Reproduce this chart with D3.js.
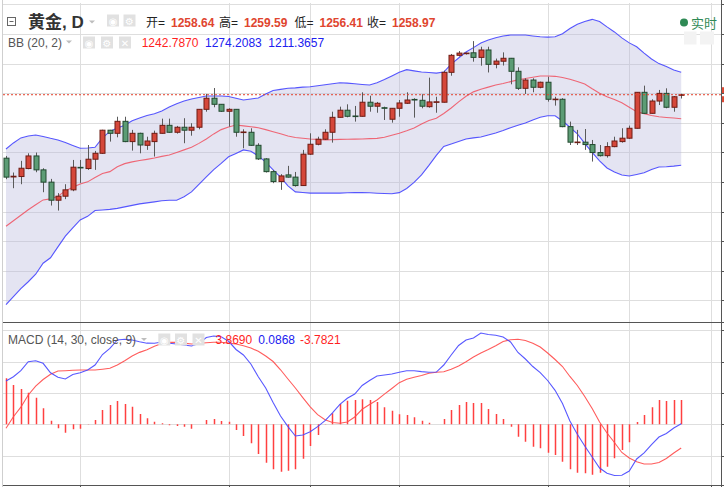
<!DOCTYPE html>
<html>
<head>
<meta charset="utf-8">
<script src="https://cdn.jsdelivr.net/npm/d3@7"></script>
<style>
body{margin:0;background:#fff;}
svg{display:block;font-family:"Liberation Sans",Arial,"Noto Sans CJK SC",sans-serif;}
</style>
</head>
<body>
<svg id="chart" width="724" height="487"></svg>
<script>
// daily gold candles
const opens = [1216.1,1203.4,1203.7,1209.1,1217.6,1208.2,1199.9,1187.7,1190.4,1194.7,
1209.9,1209.1,1215.4,1219.4,1235.0,1232.9,1241.0,1227.3,1232.9,1224.8,
1227.3,1232.9,1238.3,1233.6,1237.0,1235.0,1237.0,1249.1,1256.6,1252.5,
1247.8,1249.1,1233.4,1233.6,1224.8,1215.6,1207.0,1200.3,1204.8,1203.3,
1197.6,1218.8,1225.5,1228.9,1233.6,1243.7,1248.5,1244.6,1244.4,1253.9,
1251.2,1250.2,1242.4,1249.8,1253.2,1255.8,1255.2,1250.9,1253.9,1253.9,
1274.1,1285.6,1286.8,1287.3,1284.2,1289.2,1279.5,1281.6,1283.6,1274.8,
1263.3,1268.9,1264.0,1267.4,1255.7,1255.9,1237.4,1226.7,1226.9,1225.3,
1219.9,1217.8,1223.9,1227.3,1229.6,1236.3,1260.6,1246.4,1254.7,1259.9,
1250.5,1258.64];
const highs = [1217.6,1206.4,1214.3,1219.4,1219.9,1209.3,1202.1,1192.5,1198.5,1214.9,
1214.9,1225.0,1221.0,1235.3,1235.2,1244.1,1244.1,1235.2,1233.3,1230.6,
1234.7,1242.8,1242.8,1237.9,1243.1,1239.7,1249.3,1259.5,1263.5,1252.7,
1249.8,1249.3,1235.6,1236.3,1226.2,1216.1,1208.2,1205.3,1210.9,1206.8,
1221.7,1232.9,1230.6,1235.6,1247.5,1250.9,1252.5,1251.4,1260.6,1258.3,
1254.1,1250.9,1250.0,1255.4,1260.6,1256.6,1259.3,1270.5,1257.6,1275.2,
1286.5,1288.5,1287.5,1295.2,1291.4,1291.4,1283.4,1287.6,1283.8,1277.5,
1270.1,1270.1,1267.8,1271.1,1257.6,1256.6,1240.8,1235.2,1235.8,1228.4,
1225.0,1226.9,1230.6,1236.3,1238.1,1260.8,1265.1,1255.9,1262.2,1263.3,
1258.1,1259.59];
const lows = [1201.9,1195.8,1198.5,1208.6,1206.6,1193.1,1184.1,1180.7,1188.4,1193.8,
1199.4,1208.2,1208.2,1219.0,1227.3,1230.2,1226.9,1221.2,1219.4,1221.7,
1217.2,1232.7,1233.3,1232.7,1226.2,1231.3,1235.6,1247.5,1250.5,1247.3,
1237.4,1230.6,1222.8,1224.4,1214.9,1206.4,1199.2,1194.7,1203.0,1196.9,
1197.3,1218.3,1224.8,1228.4,1226.6,1243.5,1243.7,1240.8,1244.2,1247.5,
1246.8,1241.9,1240.1,1244.1,1252.7,1243.5,1249.8,1250.2,1246.8,1253.7,
1271.8,1284.8,1286.1,1281.3,1278.6,1274.0,1276.8,1278.7,1266.0,1262.2,
1259.5,1260.6,1263.3,1254.3,1251.6,1237.0,1225.0,1225.0,1221.7,1213.8,
1217.2,1216.5,1223.5,1226.6,1229.1,1236.1,1246.0,1246.2,1252.0,1249.8,
1247.5,1256.41];
const closes = [1203.3,1203.9,1209.3,1217.6,1208.2,1199.9,1187.7,1190.4,1194.7,1210.0,
1209.5,1215.4,1219.4,1235.0,1232.9,1241.0,1227.3,1232.9,1225.0,1227.7,
1232.9,1238.3,1233.6,1237.0,1235.0,1237.0,1249.1,1256.6,1252.5,1247.8,
1249.1,1233.6,1233.8,1224.8,1215.6,1207.0,1200.3,1204.1,1203.3,1197.6,
1218.8,1225.5,1228.9,1233.6,1243.7,1248.5,1244.4,1244.3,1253.9,1251.2,
1253.2,1249.9,1249.8,1253.4,1255.4,1255.5,1251.2,1254.1,1254.2,1274.1,
1285.6,1287.1,1287.1,1284.2,1289.2,1279.5,1281.7,1283.6,1274.8,1263.3,
1268.9,1264.0,1267.4,1255.9,1256.0,1237.4,1226.9,1227.0,1225.3,1219.9,
1217.8,1223.9,1227.7,1229.6,1236.3,1260.6,1246.4,1254.7,1259.9,1250.5,
1257.6,1258.97];

// Bollinger bands (20, 2)
const bbUpper = [1222.3,1226.4,1229.8,1231.1,1231.8,1230.8,1229.5,1228.4,1226.7,1224.7,
1222.8,1223.0,1223.5,1229.8,1234.2,1236.5,1238.4,1241.4,1243.3,1244.9,
1246.1,1248.0,1250.7,1252.9,1254.7,1256.1,1257.1,1258.1,1258.1,1258.1,
1257.8,1256.6,1255.4,1256.1,1256.8,1259.5,1261.8,1262.6,1263.3,1263.6,
1264.1,1264.4,1265.0,1265.7,1266.4,1267.1,1266.8,1266.4,1265.9,1265.5,
1267.1,1269.2,1271.7,1274.2,1275.9,1275.1,1274.3,1274.0,1273.6,1274.3,
1279.7,1283.8,1287.8,1290.8,1293.9,1295.9,1297.5,1298.6,1299.3,1299.3,
1299.3,1298.7,1298.1,1297.9,1298.1,1300.2,1303.7,1306.6,1308.5,1309.9,
1308.4,1304.8,1301.4,1297.4,1294.0,1291.4,1287.1,1283.1,1280.0,1278.0,
1275.7,1274.2083];
const bbMid = [1170.1,1173.8,1177.5,1181.2,1184.6,1187.9,1188.6,1190.4,1194.0,1196.4,
1198.6,1200.1,1203.1,1205.7,1207.0,1210.3,1212.4,1213.6,1214.5,1215.3,
1216.2,1217.3,1218.3,1220.0,1221.7,1223.5,1226.1,1229.1,1232.5,1235.4,
1237.2,1238.5,1237.9,1237.3,1236.7,1235.4,1234.0,1232.6,1231.1,1230.1,
1229.6,1229.1,1228.8,1228.4,1228.6,1228.8,1228.9,1229.0,1229.1,1229.3,
1229.5,1230.2,1231.6,1233.0,1234.6,1236.5,1239.2,1241.6,1243.1,1246.3,
1250.0,1254.1,1257.9,1260.9,1262.7,1264.1,1265.5,1266.5,1267.8,1269.0,
1269.9,1270.8,1271.6,1271.6,1271.4,1270.6,1269.4,1267.9,1266.2,1263.0,
1260.0,1257.6,1255.7,1253.5,1250.5,1247.5,1246.2,1244.9,1244.1,1243.6,
1243.2,1242.787];
const bbLower = [1117.1,1122.5,1127.9,1132.6,1137.7,1145.1,1148.8,1156.2,1163.4,1169.0,
1174.4,1176.8,1180.7,1181.1,1181.5,1182.2,1183.2,1184.2,1185.2,1185.9,
1186.6,1187.3,1187.7,1187.7,1190.0,1193.3,1198.4,1203.5,1208.4,1212.6,
1217.0,1219.3,1221.7,1220.8,1217.6,1213.4,1208.2,1203.3,1197.4,1193.3,
1192.9,1192.5,1192.5,1192.5,1192.5,1192.5,1192.7,1192.8,1192.9,1192.7,
1192.4,1192.2,1192.1,1192.8,1195.6,1199.7,1204.8,1211.2,1218.0,1224.0,
1225.7,1227.4,1229.0,1229.8,1230.4,1231.8,1233.1,1234.8,1236.7,1238.3,
1239.9,1241.9,1243.7,1244.8,1244.8,1241.2,1237.0,1232.5,1226.1,1220.0,
1214.3,1209.5,1206.8,1204.7,1204.1,1205.1,1206.2,1208.5,1210.1,1210.3,
1210.7,1211.3657];

// MACD (14, 30, close, 9)
const macdLine = [6.92,7.60,8.56,10.00,10.16,9.74,8.24,7.51,7.24,7.96,
8.24,8.67,9.47,11.15,12.14,13.47,13.58,13.47,13.19,12.96,
12.94,13.15,12.94,12.83,12.67,12.51,12.91,13.87,14.11,13.99,
13.26,11.95,11.07,9.63,7.60,5.80,3.48,1.33,-0.38,-1.87,
-1.71,-1.18,-0.38,0.58,1.81,3.19,4.15,4.84,6.20,7.00,
7.72,7.88,8.04,8.31,8.55,8.56,8.42,8.31,8.35,9.47,
11.07,12.59,13.47,13.79,14.58,14.34,14.22,13.95,13.15,11.47,
10.43,9.23,8.27,7.00,5.43,3.32,0.53,-1.60,-3.47,-5.22,
-6.98,-7.83,-8.19,-8.15,-7.46,-5.54,-4.58,-3.23,-2.03,-1.47,
-0.59,0.0868];
const signalLine = [-0.64,1.21,2.73,4.68,6.09,7.16,8.00,8.51,8.56,8.63,
8.67,8.67,8.67,8.80,8.95,9.47,10.14,10.91,11.49,11.90,
12.46,12.91,13.08,13.10,12.96,12.83,12.92,13.02,13.10,13.10,
12.96,12.83,12.54,12.19,11.66,10.91,10.03,8.71,7.24,5.80,
4.27,2.80,1.55,0.73,0.29,0.16,0.37,1.17,2.40,3.16,
3.88,4.81,5.72,6.65,7.19,7.51,7.80,8.15,8.31,8.40,
8.79,9.31,10.00,10.75,11.39,11.95,12.56,13.23,13.50,13.58,
13.39,12.96,12.35,11.39,10.35,9.23,7.64,6.20,4.44,2.52,
0.37,-1.39,-2.91,-4.50,-5.38,-5.99,-6.34,-6.34,-6.10,-5.46,
-4.58,-3.7821];
const macdHist = [7.35,6.28,5.64,5.05,4.25,2.56,0.58,-0.64,-1.34,-0.80,
-0.70,0.05,0.69,2.28,3.08,3.72,3.24,2.81,1.65,0.96,
0.42,0.16,-0.16,-0.27,-0.38,-0.70,0.02,0.69,0.85,0.53,
0.42,-0.91,-1.87,-3.04,-4.74,-6.13,-7.19,-7.57,-7.41,-7.19,
-5.50,-3.47,-1.71,0.05,1.76,3.24,3.77,3.88,3.99,3.88,
3.56,2.72,2.17,1.60,1.49,1.12,0.58,0.26,0.02,0.85,
2.28,3.08,3.56,3.40,3.40,2.44,1.65,0.85,-0.38,-1.98,
-2.78,-3.58,-3.83,-4.54,-4.90,-5.97,-7.19,-7.73,-7.83,-8.05,
-7.73,-6.77,-5.43,-4.11,-2.88,0.37,1.49,2.72,3.88,3.72,
3.88,3.8690];

// axis ticks / grid
const gridIdx = [10, 30, 41, 53, 73, 84, 95];
const priceTicks = [1120,1140,1160,1180,1200,1220,1240,1260,1280,1300,1320];
const macdTicks = [-5, 0, 5, 10, 15];
const ohlcLabels = ["开=", "高=", "低=", "收="];
const ohlcValues = ["1258.64", "1259.59", "1256.41", "1258.97"];
const bbValues = ["1242.7870", "1274.2083", "1211.3657"];
const macdValues = ["3.8690", "0.0868", "-3.7821"];

// general dimensions
const frame = {left: 3, right: 721, top: 3, split: 322.7, bottom: 485};
const upColor = "#d5473a", upEdge = "#6e1c14",
      downColor = "#5c9c75", downEdge = "#22492f",
      gridColor = "#dedede", blue = "#3b3bff", red = "#f23c4c";

const svg = d3.select("#chart");

const x = d3.scaleLinear().domain([0, 91]).range([6, 681.2]);
const y = d3.scaleLinear().domain([1240, 1260]).range([122.8, 93.2]);
const ym = d3.scaleLinear().domain([0, 5]).range([424.3, 393]);

svg.append("defs").call(d => {
  d.append("clipPath").attr("id", "clipMain").append("rect")
    .attr("x", frame.left).attr("y", frame.top)
    .attr("width", frame.right - frame.left).attr("height", frame.split - frame.top);
  d.append("clipPath").attr("id", "clipMacd").append("rect")
    .attr("x", frame.left).attr("y", frame.split)
    .attr("width", frame.right - frame.left).attr("height", frame.bottom - frame.split);
});

// grid
const grid = svg.append("g").attr("shape-rendering", "crispEdges");
grid.selectAll(".hp").data(priceTicks).join("line")
  .attr("x1", frame.left).attr("x2", frame.right)
  .attr("y1", d => Math.round(y(d)) + 0.5).attr("y2", d => Math.round(y(d)) + 0.5)
  .attr("stroke", gridColor);
grid.selectAll(".hm").data(macdTicks).join("line")
  .attr("x1", frame.left).attr("x2", frame.right)
  .attr("y1", d => Math.round(ym(d)) + 0.5).attr("y2", d => Math.round(ym(d)) + 0.5)
  .attr("stroke", gridColor);
grid.selectAll(".v").data(gridIdx).join("line")
  .attr("x1", d => Math.round(x(d)) + 0.5).attr("x2", d => Math.round(x(d)) + 0.5)
  .attr("y1", frame.top).attr("y2", frame.bottom + 2)
  .attr("stroke", gridColor);

// main panel
const main = svg.append("g").attr("clip-path", "url(#clipMain)");
const idx = d3.range(closes.length);

main.append("path")
  .datum(idx)
  .attr("d", d3.area().x(i => x(i)).y0(i => y(bbLower[i])).y1(i => y(bbUpper[i])))
  .attr("fill", "#b8b8dc").attr("fill-opacity", 0.38);

const bandLine = arr => d3.line().x(i => x(i)).y(i => y(arr[i]));
main.append("path").datum(idx).attr("d", bandLine(bbUpper))
  .attr("fill", "none").attr("stroke", blue).attr("stroke-width", 1.1).attr("stroke-opacity", 0.85);
main.append("path").datum(idx).attr("d", bandLine(bbLower))
  .attr("fill", "none").attr("stroke", blue).attr("stroke-width", 1.1).attr("stroke-opacity", 0.85);
main.append("path").datum(idx).attr("d", bandLine(bbMid))
  .attr("fill", "none").attr("stroke", red).attr("stroke-width", 1.1).attr("stroke-opacity", 0.75);

const candles = idx.map(i => ({i: i, o: opens[i], h: highs[i], l: lows[i], c: closes[i]}));
main.selectAll(".wick").data(candles).join("line")
  .attr("x1", d => Math.round(x(d.i)) + 0.5).attr("x2", d => Math.round(x(d.i)) + 0.5)
  .attr("y1", d => y(d.h)).attr("y2", d => y(d.l))
  .attr("stroke", "#5a5a5a").attr("stroke-width", 1);
main.selectAll(".body").data(candles).join("rect")
  .attr("x", d => Math.round(x(d.i)) - 2)
  .attr("width", 5)
  .attr("y", d => y(Math.max(d.o, d.c)))
  .attr("height", d => Math.max(0.6, Math.abs(y(d.o) - y(d.c))))
  .attr("fill", d => d.c >= d.o ? upColor : downColor)
  .attr("stroke", d => d.c >= d.o ? upEdge : downEdge)
  .attr("stroke-width", 1);

// last price line
const lastClose = closes[closes.length - 1];
svg.append("line")
  .attr("x1", frame.left).attr("x2", frame.right)
  .attr("y1", y(lastClose)).attr("y2", y(lastClose))
  .attr("stroke", "#e3402c").attr("stroke-width", 1).attr("stroke-dasharray", "2,2");
svg.append("rect").attr("x", 721.5).attr("y", y(lastClose) - 7.5).attr("width", 3).attr("height", 6).attr("fill", "#dd4a35");
svg.append("rect").attr("x", 721.5).attr("y", y(lastClose) + 1.5).attr("width", 3).attr("height", 6).attr("fill", "#dd4a35");

// MACD panel
const macd = svg.append("g").attr("clip-path", "url(#clipMacd)");
macd.selectAll(".bar").data(idx).join("line")
  .attr("x1", i => Math.round(x(i)) + 0.5).attr("x2", i => Math.round(x(i)) + 0.5)
  .attr("y1", ym(0)).attr("y2", i => ym(macdHist[i]))
  .attr("stroke", "#ff4040").attr("stroke-width", 1.5);
macd.append("path").datum(idx)
  .attr("d", d3.line().x(i => x(i)).y(i => ym(signalLine[i])))
  .attr("fill", "none").attr("stroke", "#ff4a4a").attr("stroke-width", 1.1).attr("stroke-opacity", 0.9);
macd.append("path").datum(idx)
  .attr("d", d3.line().x(i => x(i)).y(i => ym(macdLine[i])))
  .attr("fill", "none").attr("stroke", "#4646ff").attr("stroke-width", 1.1).attr("stroke-opacity", 0.9);

// frame
const fr = svg.append("g").attr("shape-rendering", "crispEdges");
fr.append("line").attr("x1", 2.5).attr("x2", 2.5).attr("y1", 0).attr("y2", 487).attr("stroke", "#cfcfcf");
fr.append("line").attr("x1", 721.5).attr("x2", 721.5).attr("y1", 0).attr("y2", 487).attr("stroke", "#555");
fr.append("line").attr("x1", frame.left).attr("x2", 724).attr("y1", 322.5).attr("y2", 322.5).attr("stroke", "#555");
fr.append("line").attr("x1", frame.left).attr("x2", 724).attr("y1", 485.5).attr("y2", 485.5).attr("stroke", "#555");
fr.selectAll(".tp").data(priceTicks).join("line")
  .attr("x1", 721).attr("x2", 724)
  .attr("y1", d => Math.round(y(d)) + 0.5).attr("y2", d => Math.round(y(d)) + 0.5)
  .attr("stroke", "#555");
fr.selectAll(".tm").data(macdTicks).join("line")
  .attr("x1", 721).attr("x2", 724)
  .attr("y1", d => Math.round(ym(d)) + 0.5).attr("y2", d => Math.round(ym(d)) + 0.5)
  .attr("stroke", "#555");
fr.selectAll(".tx").data(gridIdx).join("line")
  .attr("x1", d => Math.round(x(d)) + 0.5).attr("x2", d => Math.round(x(d)) + 0.5)
  .attr("y1", 485).attr("y2", 487)
  .attr("stroke", "#555");

// header helpers
const caret = function(cx, cy){
  svg.append("path").attr("d", `M${cx-3},${cy-1.5}L${cx+3},${cy-1.5}L${cx},${cy+1.5}Z`).attr("fill", "#bdbdbd");
};
const iconBox = function(bx, by, glyph){
  svg.append("rect").attr("x", bx).attr("y", by).attr("width", 12).attr("height", 12).attr("fill", "#e1e1e1");
  svg.append("text").attr("x", bx + 6).attr("y", by + 10).attr("text-anchor", "middle")
    .style("font-family", "DejaVu Sans").style("font-size", "10px").attr("fill", "#fff").text(glyph);
};

// title row
svg.append("rect").attr("x", 7.5).attr("y", 17.5).attr("width", 8).attr("height", 8).attr("fill", "none").attr("stroke", "#666");
svg.append("line").attr("x1", 9.5).attr("x2", 13.5).attr("y1", 21.5).attr("y2", 21.5).attr("stroke", "#666");
svg.append("text").attr("x", 28).attr("y", 27.5)
  .style("font-size", "17px").style("font-weight", "bold").attr("fill", "#333").text("黄金, D");
caret(92, 22);
iconBox(107, 14.5, "◉");
iconBox(123.5, 14.5, "⚙");
const ohlcX = [146, 219, 294.5, 367];
ohlcLabels.forEach((t, k) => {
  svg.append("text").attr("x", ohlcX[k]).attr("y", 26.5).style("font-size", "12px").attr("fill", "#222").text(t);
  svg.append("text").attr("x", ohlcX[k] + 25).attr("y", 26.5).style("font-size", "12px")
    .style("font-weight", "bold").attr("fill", "#e0452f").text(ohlcValues[k]);
});

// BB row
svg.append("text").attr("x", 8).attr("y", 46.5).style("font-size", "12px").attr("fill", "#555").text("BB (20, 2)");
caret(69, 42);
iconBox(83, 36.5, "◉");
iconBox(101, 36.5, "⚙");
iconBox(119, 36.5, "✕");
const bbX = [141.7, 205, 268.3], bbCol = ["#ff1f1f", "#2020f0", "#2020f0"];
bbValues.forEach((t, k) => {
  svg.append("text").attr("x", bbX[k]).attr("y", 46.5).style("font-size", "12px").attr("fill", bbCol[k]).text(t);
});

// MACD row
svg.append("text").attr("x", 8).attr("y", 344).style("font-size", "12px").attr("fill", "#555").text("MACD (14, 30, close, 9)");
caret(144, 339.5);
iconBox(158.3, 333.5, "◉");
iconBox(175, 333.5, "⚙");
iconBox(192.5, 333.5, "✕");
const mX = [215.5, 258.3, 300], mCol = ["#ff1f1f", "#2020f0", "#ff1f1f"];
macdValues.forEach((t, k) => {
  svg.append("text").attr("x", mX[k]).attr("y", 344).style("font-size", "12px").attr("fill", mCol[k]).text(t);
});

// realtime badge
svg.append("circle").attr("cx", 684).attr("cy", 22.5).attr("r", 4).attr("fill", "#2f8a55");
svg.append("text").attr("x", 691).attr("y", 27.5).style("font-size", "13px").attr("fill", "#2f8a55").text("实时");
svg.append("rect").attr("x", 684).attr("y", 31.5).attr("width", 12.5).attr("height", 13).attr("fill", "#f3f3f3");
svg.append("rect").attr("x", 700).attr("y", 31.5).attr("width", 14).attr("height", 13).attr("fill", "#f3f3f3");
</script>
</body>
</html>
